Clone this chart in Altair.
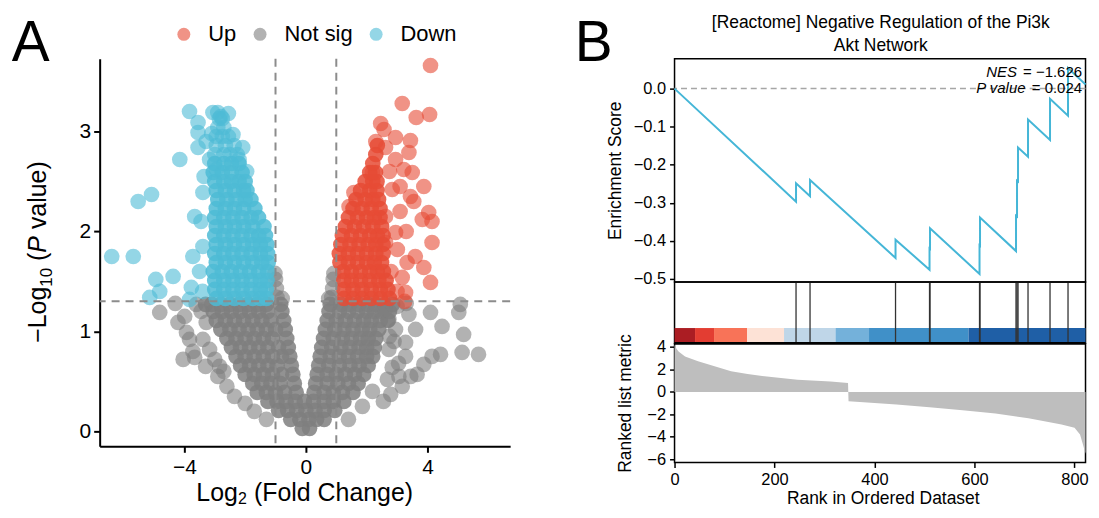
import altair as alt
import pandas as pd

FONT = "Liberation Sans"

# ---------------- Panel A: volcano plot data ----------------
GROUPS = ["Up", "Not sig", "Down"]
GROUP_COLORS = ["#E64B35", "#7F7F7F", "#4DBBD5"]
FC_CUTOFFS = [-1, 1]
P_CUTOFF = [1.301]

# dense "Not sig" cloud, rows of (-log10 p, [log2 FC ...])
GRAY_ROWS = [
    (0.03, [-0.12, 0.12]),
    (0.12, [-0.5, -0.2, 0.1, 0.35, 0.6]),
    (0.21, [-0.9, -0.6, -0.3, 0.0, 0.3, 0.6, 0.95]),
    (0.30, [-1.25, -0.95, -0.65, -0.35, -0.05, 0.25, 0.6, 0.9, 1.25]),
    (0.39, [-1.6, -1.3, -1.0, -0.7, -0.32, 0.27, 0.6, 0.9, 1.2, 1.55]),
    (0.48, [-1.75, -1.45, -1.15, -0.85, -0.38, 0.32, 0.7, 1.05, 1.4, 1.72]),
    (0.57, [-2.0, -1.7, -1.4, -1.1, -0.8, -0.43, 0.37, 0.7, 1.0, 1.3, 1.6, 1.9]),
    (0.66, [-2.15, -1.85, -1.55, -1.25, -0.95, -0.48, 0.42, 0.75, 1.1, 1.45, 1.75, 2.05]),
    (0.75, [-2.3, -2.0, -1.7, -1.4, -1.1, -0.8, -0.53, 0.47, 0.8, 1.1, 1.4, 1.7, 2.0, 2.2]),
    (0.84, [-2.45, -2.15, -1.85, -1.55, -1.25, -0.9, -0.58, 0.52, 0.85, 1.15, 1.45, 1.75, 2.0, 2.25]),
    (0.93, [-2.6, -2.3, -2.0, -1.7, -1.4, -1.1, -0.63, 0.58, 0.9, 1.2, 1.5, 1.8, 2.05, 2.3]),
    (1.02, [-2.8, -2.5, -2.2, -1.9, -1.6, -1.3, -1.0, -0.68, 0.64, 0.95, 1.25, 1.55, 1.85, 2.1, 2.4]),
    (1.11, [-2.95, -2.65, -2.35, -2.05, -1.75, -1.45, -1.15, -0.73, 0.7, 1.0, 1.3, 1.6, 1.9, 2.15, 2.45, 2.7]),
    (1.20, [-3.05, -2.75, -2.45, -2.15, -1.85, -1.55, -1.25, -0.79, 0.76, 1.1, 1.4, 1.7, 2.0, 2.25, 2.5, 2.75]),
    (1.27, [-3.3, -3.1, -2.8, -2.5, -2.2, -1.9, -1.6, -1.3, -0.83, 0.8, 1.15, 1.45, 1.75, 2.05, 2.3, 2.6, 2.85]),
]
GRAY_POINTS = [
    (-0.95, 1.34), (-0.97, 1.43), (-1.0, 1.52), (-1.02, 1.58), (-0.78, 1.33),
    (0.85, 1.34), (0.88, 1.43), (0.9, 1.52), (0.92, 1.58), (0.75, 1.33),
    (-4.81, 1.19), (-4.3, 1.28), (-4.21, 1.09), (-3.99, 1.15), (-3.93, 0.99),
    (-3.83, 0.92), (-3.72, 0.80), (-4.04, 0.72), (-3.66, 0.74), (-3.39, 0.92),
    (-3.28, 1.09), (-3.17, 0.82), (-2.84, 0.65), (-3.61, 1.27), (-3.45, 1.2),
    (-3.0, 0.72), (-2.9, 0.55), (-2.6, 0.45), (-2.35, 0.35), (-2.0, 0.28),
    (-1.7, 0.2), (-1.3, 0.12), (-3.3, 0.65), (-2.7, 0.6),
    (5.08, 1.27), (5.03, 1.19), (4.48, 1.05), (4.10, 1.19), (5.19, 0.97),
    (5.14, 0.79), (5.68, 0.77), (4.43, 0.77), (4.15, 0.75), (3.88, 0.67),
    (3.66, 0.57), (3.39, 1.17), (3.61, 1.02), (3.28, 0.89), (3.28, 0.75),
    (3.06, 0.55), (3.17, 0.45), (2.79, 0.37), (2.19, 0.40), (1.86, 0.25),
    (2.68, 0.52), (2.84, 0.64), (2.73, 0.82), (2.95, 1.02), (2.73, 1.12),
    (3.0, 1.25), (3.3, 1.28), (2.9, 0.9), (2.55, 0.3), (1.4, 0.12),
    (2.6, 1.22), (2.75, 0.95), (3.05, 0.68), (3.45, 0.55),
]
BLUE_ROWS = [
    (1.33, [-2.95, -2.65, -2.35, -2.05, -1.75, -1.5, -1.3]),
    (1.42, [-3.0, -2.7, -2.4, -2.1, -1.8, -1.5, -1.3]),
    (1.51, [-3.0, -2.7, -2.4, -2.1, -1.8, -1.5, -1.28]),
    (1.60, [-3.05, -2.75, -2.45, -2.15, -1.85, -1.55, -1.26]),
    (1.69, [-2.95, -2.65, -2.35, -2.05, -1.75, -1.45, -1.24]),
    (1.78, [-3.0, -2.7, -2.4, -2.1, -1.8, -1.5, -1.26]),
    (1.87, [-2.95, -2.65, -2.35, -2.05, -1.75, -1.5, -1.28]),
    (1.96, [-3.0, -2.7, -2.4, -2.1, -1.8, -1.55, -1.33]),
    (2.05, [-2.95, -2.65, -2.35, -2.05, -1.75, -1.38]),
    (2.14, [-3.0, -2.7, -2.4, -2.1, -1.8, -1.56]),
    (2.23, [-2.95, -2.65, -2.35, -2.05, -1.68]),
    (2.32, [-2.9, -2.6, -2.3, -2.0, -1.81]),
    (2.41, [-2.95, -2.65, -2.35, -2.05, -1.94]),
    (2.50, [-3.0, -2.7, -2.45, -2.2, -2.0]),
    (2.59, [-3.05, -2.75, -2.45, -2.1]),
    (2.68, [-3.0, -2.7, -2.45, -2.2]),
]
# looser, overlapping head of the "Down" cloud
BLUE_TOP_ROWS = [
    (2.77, [-3.0, -2.7, -2.5, -2.26]),
    (2.86, [-2.95, -2.65, -2.36]),
    (2.95, [-2.95, -2.75, -2.55]),
    (3.04, [-2.9, -2.7]),
    (3.13, [-2.85, -2.75]),
]
BLUE_POINTS = [
    (-3.83, 3.20), (-3.55, 3.09), (-3.55, 2.99), (-3.55, 2.84), (-4.15, 2.72),
    (-5.52, 2.30), (-5.08, 2.37), (-6.39, 1.75), (-5.68, 1.75), (-4.94, 1.52),
    (-4.81, 1.40), (-5.14, 1.34), (-4.37, 1.55), (-3.77, 1.44), (-3.72, 1.75),
    (-3.66, 2.15), (-3.39, 2.39), (-3.06, 3.19), (-2.90, 3.19), (-2.40, 2.97),
    (-2.08, 2.84), (-3.28, 2.90), (-3.17, 2.72), (-3.83, 1.32), (-3.39, 1.85),
    (-2.8, 3.15), (-2.2, 2.72), (-1.95, 2.6), (-3.45, 2.1), (-3.5, 1.6),
    (-3.4, 1.4), (-3.35, 2.55), (-2.55, 3.18), (-3.1, 2.98), (-2.95, 2.62),
]
RED_ROWS = [
    (1.33, [1.25, 1.55, 1.85, 2.15, 2.45, 2.75]),
    (1.42, [1.25, 1.55, 1.85, 2.15, 2.45, 2.7]),
    (1.51, [1.25, 1.5, 1.8, 2.1, 2.4, 2.64]),
    (1.60, [1.22, 1.5, 1.8, 2.1, 2.35, 2.55]),
    (1.69, [1.12, 1.4, 1.7, 2.0, 2.25, 2.49]),
    (1.78, [1.1, 1.4, 1.7, 2.0, 2.3, 2.54]),
    (1.87, [1.15, 1.45, 1.75, 2.05, 2.3, 2.54]),
    (1.96, [1.2, 1.5, 1.8, 2.1, 2.35, 2.54]),
    (2.05, [1.3, 1.6, 1.9, 2.2, 2.49]),
    (2.14, [1.4, 1.7, 2.0, 2.25, 2.44]),
    (2.23, [1.55, 1.85, 2.15, 2.44]),
    (2.32, [1.65, 1.95, 2.2, 2.39]),
    (2.41, [1.8, 2.1, 2.34]),
    (2.50, [1.95, 2.2, 2.34]),
    (2.59, [2.1, 2.29]),
    (2.68, [2.2]),
    (2.77, [2.3]),
    (2.86, [2.35]),
]
RED_POINTS = [
    (4.10, 3.66), (3.17, 3.28), (3.63, 3.14), (4.07, 3.17), (2.46, 3.08),
    (2.57, 3.02), (2.30, 2.90), (2.95, 2.94), (3.44, 2.91), (3.39, 2.79),
    (2.62, 2.84), (2.95, 2.72), (3.22, 2.62), (3.50, 2.59), (2.19, 2.59),
    (3.88, 2.45), (4.04, 2.19), (4.15, 2.10), (3.83, 2.12), (3.44, 2.35),
    (4.15, 1.89), (3.88, 1.64), (4.10, 1.49), (3.33, 1.69), (3.17, 1.54),
    (3.28, 1.39), (1.58, 2.39), (1.42, 2.25), (2.84, 2.42), (2.62, 2.15),
    (2.95, 1.99), (3.01, 1.82), (2.62, 1.89), (3.1, 2.2), (3.3, 2.0),
    (3.6, 1.75), (2.8, 1.6), (3.0, 1.4), (3.25, 1.3), (3.55, 2.3),
    (2.75, 2.6), (3.1, 2.45),
]
CORE_OPACITY = 0.85
SPARSE_OPACITY = 0.6

# ---------------- Panel B: GSEA data ----------------
ES_RANK = [0, 243, 243, 271, 271, 442, 442, 510, 510, 511, 511, 610, 610, 611, 611,
           683, 683, 685, 685, 687, 687, 707, 707, 751, 751, 787, 787, 822]
ES_VALUE = [0.0, -0.297, -0.249, -0.283, -0.240, -0.445, -0.397, -0.476, -0.420, -0.421,
            -0.367, -0.487, -0.412, -0.413, -0.339, -0.427, -0.334, -0.336, -0.242, -0.244,
            -0.155, -0.179, -0.081, -0.135, -0.027, -0.071, 0.054, 0.011]
HIT_RANKS = [243, 271, 442, 510, 511, 610, 611, 683, 685, 687, 707, 751, 787]
BAR_START = [0, 41, 79, 145, 219, 322, 389, 588]
BAR_END = [41, 79, 145, 219, 322, 389, 588, 822]
BAR_COLORS = ["#AB1D23", "#E33D32", "#F87358", "#FDE2D6", "#BFD6E8", "#74B1DA", "#4090C8", "#1F5FA6"]
METRIC_RANK = [0, 3, 8, 21, 47, 80, 113, 146, 180, 246, 312, 347, 348, 378, 444, 510,
               576, 642, 708, 774, 800, 811, 817, 822]
METRIC_VALUE = [4.2, 3.9, 3.6, 3.16, 2.72, 2.28, 1.83, 1.60, 1.39, 1.09, 0.92, 0.80, -0.83,
                -0.92, -1.13, -1.37, -1.63, -1.93, -2.34, -2.91, -3.2, -3.8, -4.7, -5.5]

TITLE_LINES = ["[Reactome] Negative Regulation of the Pi3k", "Akt Network"]
NES_LABEL = ["NES", "= \u22121.626"]
PVAL_LABEL = ["P value", "= 0.024"]
YTITLE_A = ["\u2212Log", "10", "(", "P", "value)"]
XTITLE_A = ["Log", "2", "(Fold Change)"]
PANEL_LABELS = ["A", "B"]

# ---------------- build panel A ----------------
records = []
for y, xs in GRAY_ROWS:
    for x in xs:
        records.append((x, y, "Not sig", CORE_OPACITY))
for x, y in GRAY_POINTS:
    records.append((x, y, "Not sig", SPARSE_OPACITY))
for y, xs in BLUE_ROWS:
    for x in xs:
        records.append((x, y, "Down", CORE_OPACITY))
for y, xs in BLUE_TOP_ROWS:
    for x in xs:
        records.append((x, y, "Down", SPARSE_OPACITY))
for x, y in BLUE_POINTS:
    records.append((x, y, "Down", SPARSE_OPACITY))
for y, xs in RED_ROWS:
    for x in xs:
        records.append((x, y, "Up", CORE_OPACITY))
for x, y in RED_POINTS:
    records.append((x, y, "Up", SPARSE_OPACITY))
dfA = pd.DataFrame(records, columns=["lfc", "nlp", "group", "alpha"])

xA = alt.Scale(domain=[-6.787, 6.721], nice=False, zero=False)
yA = alt.Scale(domain=[-0.1495, 3.728], nice=False, zero=False)
axA = dict(labelFont=FONT, labelFontSize=21, labelColor="black", tickColor="black",
           domainColor="black", tickSize=6, tickWidth=2, domainWidth=2, grid=False,
           title=None, labelFlush=False, labelOverlap=False, format="d")


def txt(text, px, py, size, **kw):
    return alt.Chart(pd.DataFrame({"t": [text]})).mark_text(
        font=FONT, fontSize=size, color="black", **kw
    ).encode(text="t:N", x=alt.value(px), y=alt.value(py))


points = alt.Chart(dfA).mark_circle(size=246).encode(
    x=alt.X("lfc:Q", scale=xA, axis=alt.Axis(values=[-4, 0, 4], labelPadding=4, **axA)),
    y=alt.Y("nlp:Q", scale=yA, axis=alt.Axis(values=[0, 1, 2, 3], labelPadding=3, **axA)),
    opacity=alt.Opacity("alpha:Q", scale=None, legend=None),
    color=alt.Color(
        "group:N",
        scale=alt.Scale(domain=GROUPS, range=GROUP_COLORS),
        legend=alt.Legend(
            title=None, orient="none", legendX=73.5, legendY=-35.5, direction="horizontal",
            columns=3, symbolType="circle", symbolSize=169, symbolOpacity=0.6,
            symbolStrokeWidth=0, labelFont=FONT, labelFontSize=22, labelColor="black",
            columnPadding=12.5, labelOffset=13.5, padding=0,
        ),
    ),
)
vrules = alt.Chart(pd.DataFrame({"lfc": FC_CUTOFFS})).mark_rule(
    color="#8C8C8C", strokeDash=[8, 6], strokeWidth=2).encode(x="lfc:Q")
hrule = alt.Chart(pd.DataFrame({"nlp": P_CUTOFF})).mark_rule(
    color="#8C8C8C", strokeDash=[8, 6], strokeWidth=2).encode(y="nlp:Q")

# keeps the top-left corner of the drawing fixed (panel A plot origin at page 100, 58)
anchor = alt.Chart(pd.DataFrame({"a": [0]})).mark_rule(color="white", strokeWidth=1).encode(
    x=alt.value(-91.5), y=alt.value(-49.5), y2=alt.value(-45))

ytA = [
    txt(YTITLE_A[0], -54, 285.1, 25, angle=270, align="left", baseline="alphabetic"),
    txt(YTITLE_A[1], -48, 228.8, 17, angle=270, align="left", baseline="alphabetic"),
    txt(YTITLE_A[2], -54, 202.95, 25, angle=270, align="left", baseline="alphabetic"),
    txt(YTITLE_A[3], -54, 194.65, 25, angle=270, align="left", baseline="alphabetic", fontStyle="italic"),
    txt(YTITLE_A[4], -54, 171.0, 25, angle=270, align="left", baseline="alphabetic"),
]
xtA = [
    txt(XTITLE_A[0], 97.05, 443.5, 25, align="left", baseline="alphabetic"),
    txt(XTITLE_A[1], 138.75, 446.5, 16, align="left", baseline="alphabetic"),
    txt(XTITLE_A[2], 154.9, 443.5, 25, align="left", baseline="alphabetic"),
]
labA = txt(PANEL_LABELS[0], -88.3, -43, 57, align="left", baseline="top")

panelA = alt.layer(anchor, points, vrules, hrule, labA, *ytA, *xtA).properties(
    width=412, height=389, view=alt.ViewBackground(stroke=None))

# ---------------- build panel B ----------------
WB = 412.5
xB = alt.Scale(domain=[0, 822], nice=False, zero=False)
frame = alt.ViewBackground(stroke="black", strokeWidth=1.5)
axB = dict(labelFont=FONT, labelFontSize=16.5, labelColor="black", tickColor="black",
           tickSize=5, tickWidth=1.5, domain=False, grid=False, labelPadding=4,
           titleFont=FONT, titleFontSize=17.5, titleFontWeight="normal", titleColor="black",
           labelFlush=False, labelOverlap=False)

es_df = pd.DataFrame({"rank": ES_RANK, "es": ES_VALUE, "i": list(range(len(ES_RANK)))})
es_line = alt.Chart(es_df).mark_line(color="#45B6D7", strokeWidth=2).encode(
    x=alt.X("rank:Q", scale=xB, axis=None),
    y=alt.Y("es:Q", scale=alt.Scale(domain=[-0.508, 0.0785], nice=False, zero=False),
            axis=alt.Axis(values=[0.0, -0.1, -0.2, -0.3, -0.4, -0.5], format=".1f",
                          title="Enrichment Score", titleX=-59, titleY=112,
                          titleAlign="center", titleBaseline="middle", titleAngle=270, **axB)),
    order="i:Q",
)
zero_rule = alt.Chart(pd.DataFrame({"es": [0.0]})).mark_rule(
    color="#A6A6A6", strokeDash=[6, 4], strokeWidth=1.5).encode(y="es:Q")
es_texts = [
    txt(TITLE_LINES[0], 207, -30.5, 17.5, align="center", baseline="alphabetic"),
    txt(TITLE_LINES[1], 207, -8, 17.5, align="center", baseline="alphabetic"),
    txt(NES_LABEL[0], 343.6, 18.5, 15, align="right", baseline="alphabetic", fontStyle="italic"),
    txt(NES_LABEL[1], 409, 18.5, 15, align="right", baseline="alphabetic"),
    txt(PVAL_LABEL[0], 352.3, 34, 15, align="right", baseline="alphabetic", fontStyle="italic"),
    txt(PVAL_LABEL[1], 409, 34, 15, align="right", baseline="alphabetic"),
    txt(PANEL_LABELS[1], -100.2, -43, 57, align="left", baseline="top"),
]
es_chart = alt.layer(zero_rule, es_line, *es_texts).properties(width=WB, height=224, view=frame)

bar_df = pd.DataFrame({"start": BAR_START, "end": BAR_END, "col": BAR_COLORS})
bar = alt.Chart(bar_df).mark_rect().encode(
    x=alt.X("start:Q", scale=xB, axis=None), x2="end:Q",
    y=alt.value(46.3), y2=alt.value(61), color=alt.Color("col:N", scale=None))
hit_lines = alt.Chart(pd.DataFrame({"start": HIT_RANKS})).mark_rule(
    color="#333333", strokeWidth=1.3).encode(x="start:Q", y=alt.value(1), y2=alt.value(61))
bar_edge = alt.Chart(pd.DataFrame({"a": [0]})).mark_rule(color="black", strokeWidth=2.5).encode(
    x=alt.value(0), x2=alt.value(WB), y=alt.value(61.5))
hits_chart = alt.layer(bar, hit_lines, bar_edge).properties(width=WB, height=61.5, view=frame)

met_df = pd.DataFrame({"rank": METRIC_RANK, "metric": METRIC_VALUE, "base": [0] * len(METRIC_RANK)})
area = alt.Chart(met_df).mark_area(color="#BEBEBE").encode(
    x=alt.X("rank:Q", scale=xB,
            axis=alt.Axis(values=[0, 200, 400, 600, 800], title="Rank in Ordered Dataset",
                          titleY=41, titleBaseline="alphabetic", titleX=209, titleAlign="center",
                          **axB)),
    y=alt.Y("metric:Q", scale=alt.Scale(domain=[-6.28, 4.29], nice=False, zero=False),
            axis=alt.Axis(values=[4, 2, 0, -2, -4, -6], format="d", title="Ranked list metric",
                          titleX=-49.4, titleY=59.6, titleAlign="center", titleBaseline="middle",
                          titleAngle=270, **axB)),
    y2="base:Q",
)
metric_chart = alt.layer(area).properties(width=WB, height=119.2, view=frame)

panelB = alt.vconcat(es_chart, hits_chart, metric_chart, spacing=0, bounds="flush")

chart = alt.hconcat(panelA, panelB, spacing=165, bounds="flush").properties(
    padding=0).configure_view(stroke=None).configure(font=FONT)

chart.save("out.html", embed_options={"renderer": "svg", "actions": False})
